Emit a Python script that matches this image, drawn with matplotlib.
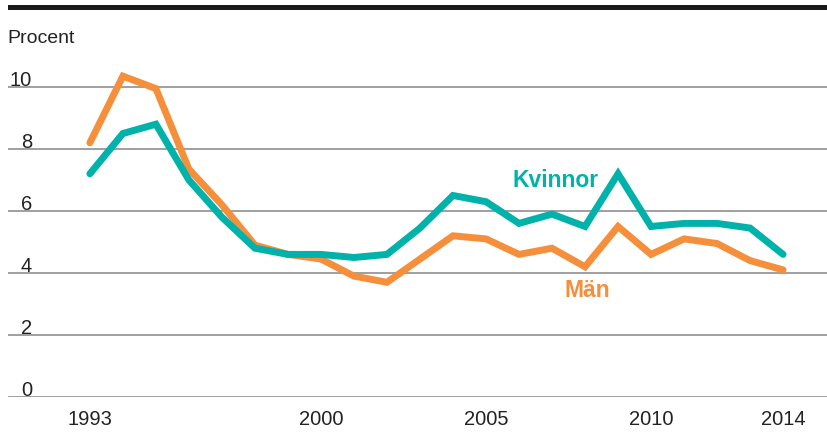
import matplotlib
matplotlib.use("Agg")
import matplotlib.pyplot as plt
from matplotlib.patches import Rectangle

years = list(range(1993, 2015))
kvinnor = [7.2, 8.5, 8.8, 7.0, 5.8, 4.8, 4.6, 4.6, 4.5, 4.6, 5.45, 6.5, 6.3, 5.6, 5.9, 5.5, 7.2, 5.5, 5.6, 5.6, 5.45, 4.6]
man = [8.2, 10.35, 9.95, 7.35, 6.2, 4.9, 4.6, 4.45, 3.9, 3.7, 4.45, 5.2, 5.1, 4.6, 4.8, 4.2, 5.5, 4.6, 5.1, 4.95, 4.4, 4.1]
xticks = [1993, 2000, 2005, 2010, 2014]
yticks = [0, 2, 4, 6, 8, 10]

teal = "#00b2a9"
orange = "#f58f3b"
FONT = "Liberation Sans"
TXT = "#222222"

W, H = 827, 435
fig = plt.figure(figsize=(W / 100, H / 100), dpi=100)
ax = fig.add_axes([8 / W, (H - 398) / H, 1 - 8 / W, (398 - 47.7) / H])
ax.set_xlim(1990.52, 2015.33)
ax.set_ylim(0, 11.3)

for v in yticks:
    ax.axhline(v, color="#8f8f8f", lw=1.2, zorder=1)
    ax.text(24 / (W - 8), v + 0.08, str(v), transform=ax.get_yaxis_transform(),
            ha="right", va="baseline", fontsize=14.5, family=FONT, color=TXT)

ax.plot(years, man, color=orange, lw=5, solid_capstyle="round", solid_joinstyle="miter", zorder=3)
ax.plot(years, kvinnor, color=teal, lw=5, solid_capstyle="round", solid_joinstyle="miter", zorder=4)

ax.text(2007.1, 7.0, "Kvinnor", color=teal, fontsize=16.5, fontweight="bold", family=FONT,
        ha="center", va="center")
ax.text(2008.06, 3.48, "Män", color=orange, fontsize=16.5, fontweight="bold", family=FONT,
        ha="center", va="center")

ax.set_xticks(xticks)
ax.set_xticklabels([str(x) for x in xticks], fontsize=14.5, family=FONT, color=TXT)
ax.tick_params(axis="x", length=0, pad=9)
ax.set_yticks([])
for s in ax.spines.values():
    s.set_visible(False)

fig.text(7 / W, 1 - 43 / H, "Procent", fontsize=14, family=FONT, color=TXT, ha="left", va="baseline")
fig.add_artist(Rectangle((8 / W, 1 - 11 / H), 1 - 8 / W, 5 / H, transform=fig.transFigure,
                         facecolor="#1a1a1a", edgecolor="none"))

fig.savefig("out.png", dpi=100)
